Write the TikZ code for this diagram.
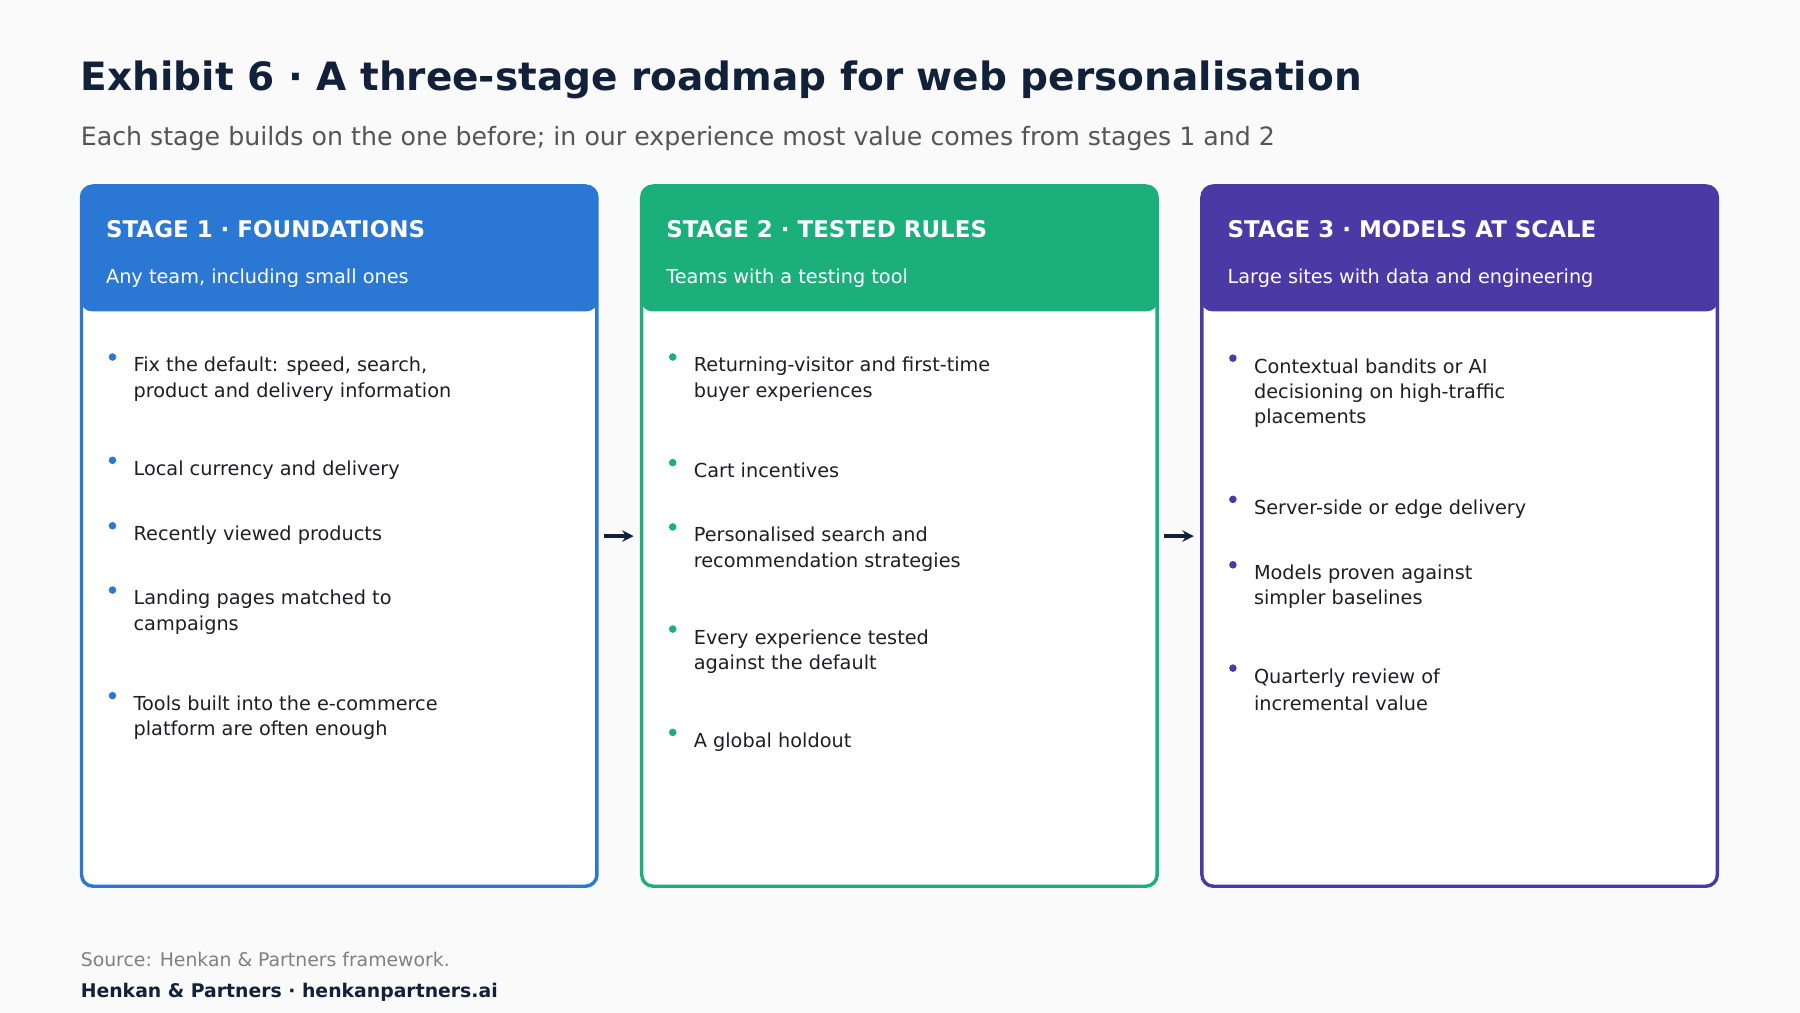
\documentclass[tikz,border=0pt]{standalone}
\usepackage{fontspec}
\setmainfont{DejaVu Sans}
\usetikzlibrary{arrows.meta}
\definecolor{bg}{HTML}{FAFAFA}
\definecolor{navy}{HTML}{12213A}
\definecolor{sA}{HTML}{2B78D4}
\definecolor{sB}{HTML}{1BAF7C}
\definecolor{sC}{HTML}{4B3AA6}
\definecolor{txt}{HTML}{1E1E28}
\definecolor{sub}{HTML}{555555}
\begin{document}
\begin{tikzpicture}[x=0.5pt,y=-0.5pt,
  ttl/.style={anchor=base west,inner sep=0,font=\bfseries\fontsize{10}{12}\selectfont,text=white},
  hsub/.style={anchor=base west,inner sep=0,font=\fontsize{8.4}{10}\selectfont,text=white},
  item/.style={anchor=base west,inner sep=0,font=\fontsize{8.4}{11}\selectfont,text=txt},
  arr/.style={-{Stealth[length=5pt,width=5pt]},line width=1.4pt,navy}]
\useasboundingbox (0,0) rectangle (1568,882);
\fill[bg] (0,0) rectangle (1568,882);
\node[anchor=base west,inner sep=0,font=\bfseries\fontsize{17}{20}\selectfont,text=navy] (title) at (70,79) {Exhibit 6 · A three-stage roadmap for web personalisation};
\node[anchor=base west,inner sep=0,font=\fontsize{11}{13}\selectfont,text=sub] (subt) at (70,127) {Each stage builds on the one before; in our experience most value comes from stages 1 and 2};
% boxes
\foreach \x/\c/\n in {71/sA/A,559/sB/B,1047/sC/C}{
  \draw[\c,line width=1.5pt,fill=white,rounded corners=5pt] (\x,162) rectangle ++(449,610);
  \fill[\c,rounded corners=5pt] (\x-0.75,161.25) rectangle ++(450.5,110);
  \coordinate (\n) at (\x,0);
}
\node[ttl] (t1) at (92,207) {STAGE 1 · FOUNDATIONS};
\node[hsub] (h1) at (92,247) {Any team, including small ones};
\node[ttl] (t2) at (580,207) {STAGE 2 · TESTED RULES};
\node[hsub] (h2) at (580,247) {Teams with a testing tool};
\node[ttl] (t3) at (1069,207) {STAGE 3 · MODELS AT SCALE};
\node[hsub] (h3) at (1069,247) {Large sites with data and engineering};
% items
\newcommand{\itm}[5]{% x y color name text
  \fill[#3] (#1+27,#2-8) circle (3.3);
  \node[item] (#4) at (#1+45,#2+5) {\parbox[t]{330pt}{#5}};}
\itm{71}{319}{sA}{a1}{Fix the default: speed, search,\\product and delivery information}
\itm{71}{409}{sA}{a2}{Local currency and delivery}
\itm{71}{466}{sA}{a3}{Recently viewed products}
\itm{71}{522}{sA}{a4}{Landing pages matched to\\campaigns}
\itm{71}{614}{sA}{a5}{Tools built into the e-commerce\\platform are often enough}
\itm{559}{319}{sB}{b1}{Returning-visitor and first-time\\buyer experiences}
\itm{559}{411}{sB}{b2}{Cart incentives}
\itm{559}{467}{sB}{b3}{Personalised search and\\recommendation strategies}
\itm{559}{556}{sB}{b4}{Every experience tested\\against the default}
\itm{559}{646}{sB}{b5}{A global holdout}
\itm{1047}{320}{sC}{c1}{Contextual bandits or AI\\decisioning on high-traffic\\placements}
\itm{1047}{443}{sC}{c2}{Server-side or edge delivery}
\itm{1047}{500}{sC}{c3}{Models proven against\\simpler baselines}
\itm{1047}{590}{sC}{c4}{Quarterly review of\\[1pt]incremental value}
\coordinate (p1) at (526,467); \coordinate (q1) at (552,467);
\coordinate (p2) at (1014,467); \coordinate (q2) at (1040,467);
\draw[arr] (p1) -- (q1);
\draw[arr] (p2) -- (q2);
\node[anchor=base west,inner sep=0,font=\fontsize{8.2}{10}\selectfont,text=gray] (src) at (70,842) {Source: Henkan \& Partners framework.};
\node[anchor=base west,inner sep=0,font=\bfseries\fontsize{8.2}{10}\selectfont,text=navy] (ft) at (70,869) {Henkan \& Partners · henkanpartners.ai};
\end{tikzpicture}
\end{document}
